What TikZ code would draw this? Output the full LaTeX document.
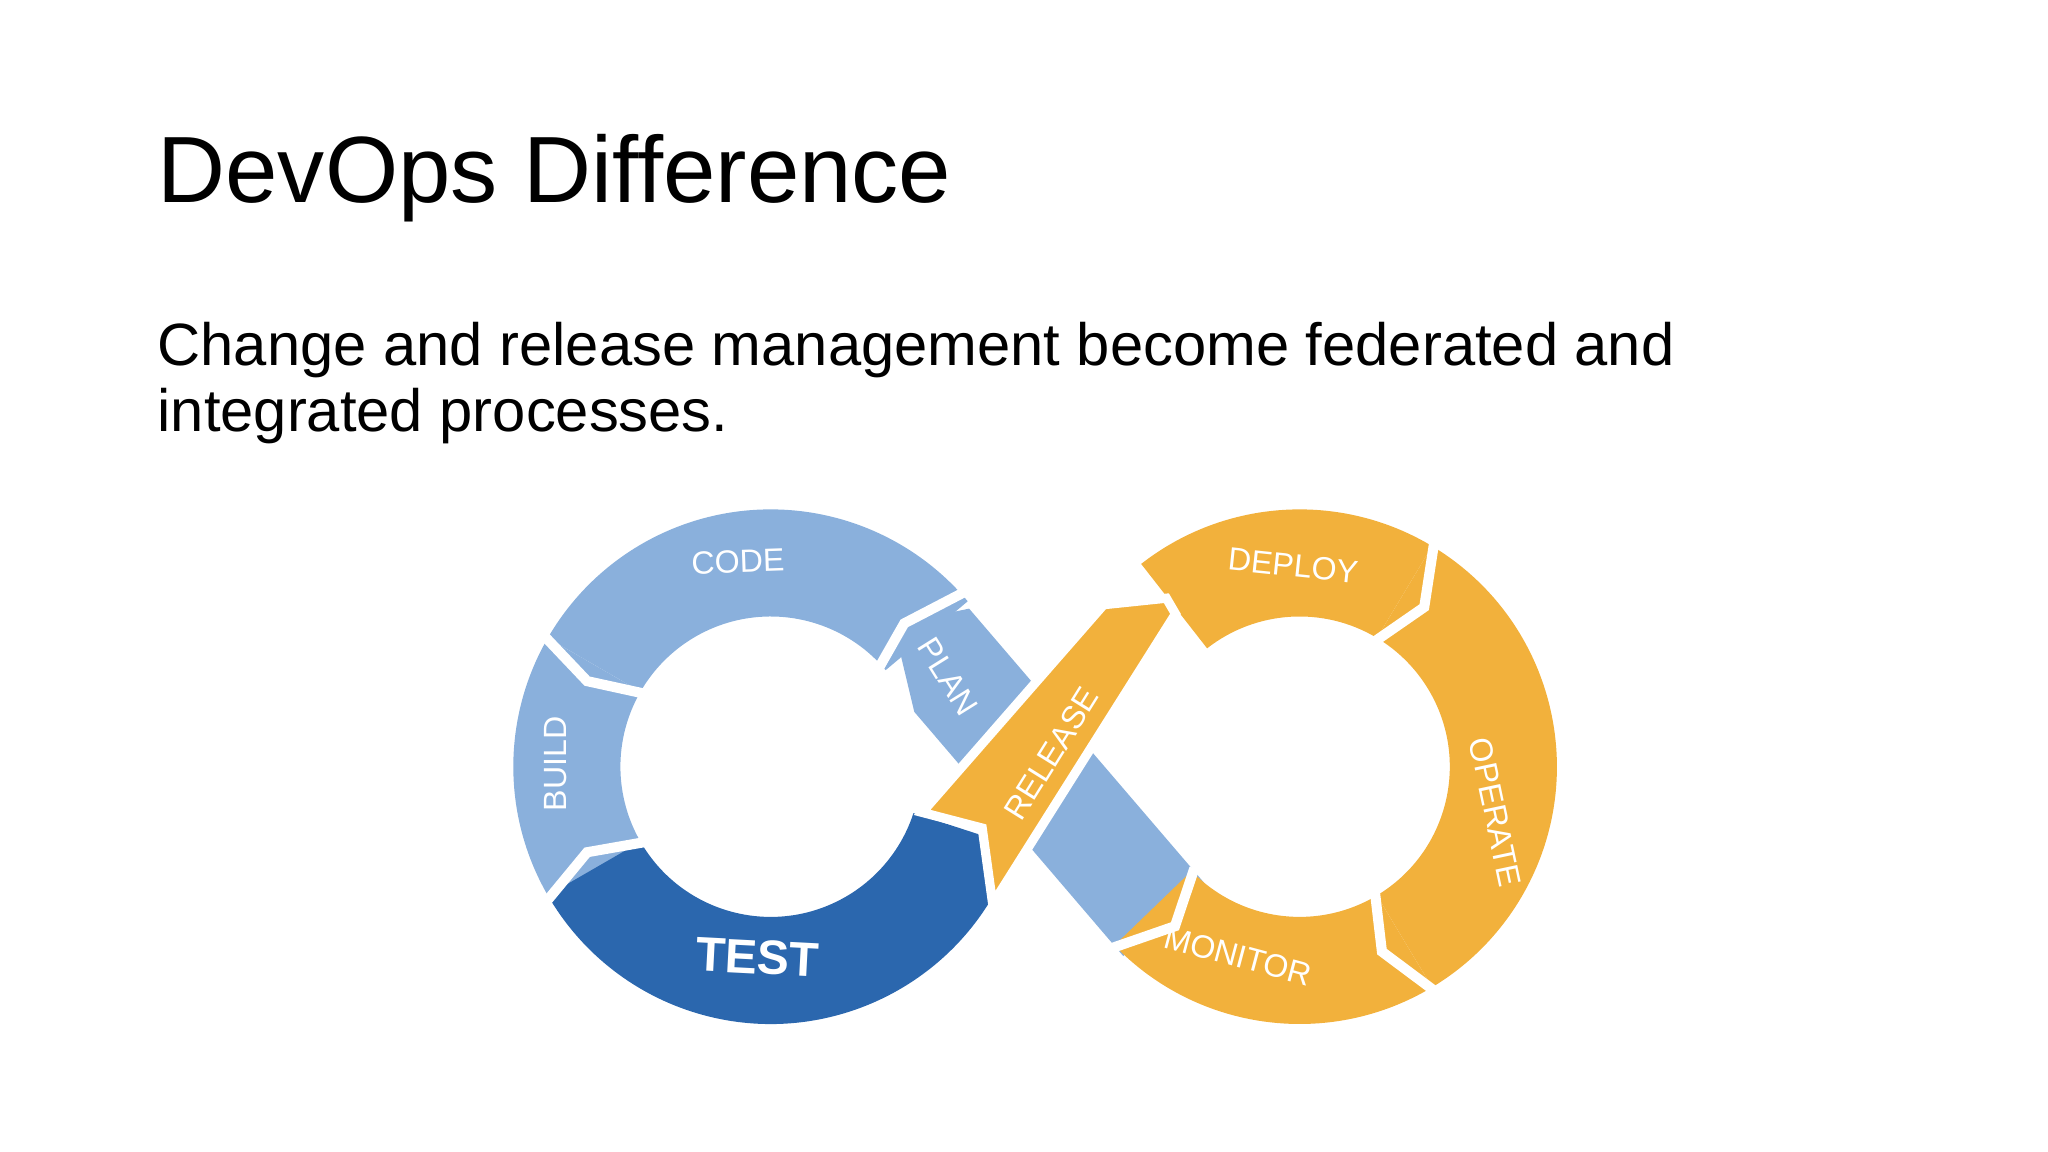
\documentclass[tikz,border=0pt]{standalone}
\usepackage{fontspec}
\setmainfont{Liberation Sans}
\definecolor{lb}{HTML}{8AB0DC}
\definecolor{db}{HTML}{2B67AE}
\definecolor{og}{HTML}{F2B13C}
\begin{document}
\begin{tikzpicture}[x=0.01cm,y=0.01cm,
  lbl/.style={text=white,inner sep=1pt,font=\fontsize{7}{7}\selectfont},
  gap/.style={white,line width=2.2pt}]
\useasboundingbox (0,0) rectangle (1568,-882);
\node[anchor=base west,inner sep=0,font=\fontsize{20.5}{24}\selectfont] (title) at (120,-155) {DevOps Difference};
\node[anchor=base west,inner sep=0,align=left,font=\fontsize{13}{14.3}\selectfont] (body) at (120,-330) {Change and release management become federated and\\integrated processes.};
% blue diagonal band
\fill[lb] (684,-478) -- (742,-466) -- (922,-676) -- (860,-732) -- (700,-545) -- cycle;
% left ring
\begin{scope}[shift={(590,-587)}]
 \fill[lb] (150:197) arc[start angle=150,end angle=40,radius=197] -- (40:115) arc[start angle=40,end angle=150,radius=115] -- cycle;
 \fill[lb] (211:197) arc[start angle=211,end angle=150,radius=197] -- (150:115) arc[start angle=150,end angle=211,radius=115] -- cycle;
 \fill[db] (-18:197) arc[start angle=-18,end angle=-150,radius=197] -- (-150:115) arc[start angle=-150,end angle=-18,radius=115] -- cycle;
 \draw[gap] (150:112) -- (155:155) -- (150:200);
 \draw[gap] (211:112) -- (205:155) -- (211:200);
 \draw[gap] (42:110) -- (47:150) -- (42:200);
\end{scope}
% right ring
\begin{scope}[shift={(995,-587)}]
 \fill[og] (128:197) arc[start angle=128,end angle=59,radius=197] -- (59:115) arc[start angle=59,end angle=128,radius=115] -- cycle;
 \fill[og] (59:197) arc[start angle=59,end angle=-59,radius=197] -- (-59:115) arc[start angle=-59,end angle=59,radius=115] -- cycle;
 \fill[og] (-59:197) arc[start angle=-59,end angle=-136,radius=197] -- (-136:115) arc[start angle=-136,end angle=-59,radius=115] -- cycle;
 \draw[gap] (59:112) -- (52:155) -- (59:200);
 \draw[gap] (-59:112) -- (-66:155) -- (-59:200);
 \draw[gap] (-136:112) -- (-128:155) -- (-136:200);
\end{scope}
% orange diagonal band
\fill[og,draw=white,line width=2pt] (706,-622) -- (752,-634) -- (760,-692) -- (900,-470) -- (893,-458) -- (845,-463) -- cycle;
\node[lbl,rotate=2] (code) at (565,-430) {CODE};
\node[lbl,rotate=90] (build) at (425,-585) {BUILD};
\node[lbl,font=\bfseries\fontsize{10.5}{11}\selectfont,rotate=-3] (test) at (580,-733) {TEST};
\node[lbl,rotate=-58] (plan) at (726,-518) {PLAN};
\node[lbl,rotate=58] (release) at (805,-577) {RELEASE};
\node[lbl,rotate=-6] (deploy) at (990,-433) {DEPLOY};
\node[lbl,rotate=-78] (operate) at (1145,-622) {OPERATE};
\node[lbl,rotate=-15] (monitor) at (948,-732) {MONITOR};
\end{tikzpicture}
\end{document}
